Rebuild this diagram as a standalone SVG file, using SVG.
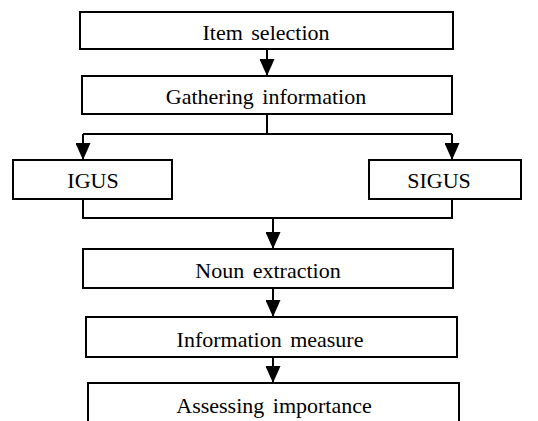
<svg xmlns="http://www.w3.org/2000/svg" width="538" height="421" viewBox="0 0 538 421">
<style>
.box{fill:#fff;stroke:#000;stroke-width:2}
.t{font-family:"Liberation Serif","Times New Roman",serif;font-size:22px;fill:#000;text-anchor:middle;word-spacing:3px}
.c{fill:none;stroke:#000;stroke-width:2}
</style>
<defs>
<marker id="a" markerUnits="userSpaceOnUse" markerWidth="18" markerHeight="15" refX="17" refY="7.5" orient="auto" viewBox="0 0 18 15">
<path d="M0,0 L17,7.5 L0,15 Z" fill="#000"/>
</marker>
</defs>
<g id="connectors">
<line class="c" x1="267" y1="49" x2="267" y2="76" marker-end="url(#a)"/>
<polyline class="c" points="267,114 267,134"/>
<polyline class="c" points="83,134 452,134"/>
<line class="c" x1="83" y1="134" x2="83" y2="160" marker-end="url(#a)"/>
<line class="c" x1="452" y1="134" x2="452" y2="160" marker-end="url(#a)"/>
<polyline class="c" points="83,199 83,218 452,218 452,199"/>
<line class="c" x1="273" y1="218" x2="273" y2="249" marker-end="url(#a)"/>
<line class="c" x1="273" y1="288" x2="273" y2="317" marker-end="url(#a)"/>
<line class="c" x1="273" y1="357" x2="273" y2="383" marker-end="url(#a)"/>
</g>
<g id="item-selection">
<rect class="box" x="80" y="12" width="373" height="37"/>
<text class="t" x="266" y="40">Item selection</text>
</g>
<g id="gathering-information">
<rect class="box" x="82" y="76" width="370" height="38"/>
<text class="t" x="266" y="104">Gathering information</text>
</g>
<g id="igus">
<rect class="box" x="13" y="160" width="159" height="39"/>
<text class="t" x="93" y="188">IGUS</text>
</g>
<g id="sigus">
<rect class="box" x="369" y="160" width="152" height="39"/>
<text class="t" x="439" y="188">SIGUS</text>
</g>
<g id="noun-extraction">
<rect class="box" x="83" y="249" width="370" height="39"/>
<text class="t" x="268" y="278">Noun extraction</text>
</g>
<g id="information-measure">
<rect class="box" x="86" y="317" width="371" height="40"/>
<text class="t" x="270" y="347">Information measure</text>
</g>
<g id="assessing-importance">
<rect class="box" x="88" y="383" width="371" height="50"/>
<text class="t" x="274" y="413">Assessing importance</text>
</g>
</svg>
